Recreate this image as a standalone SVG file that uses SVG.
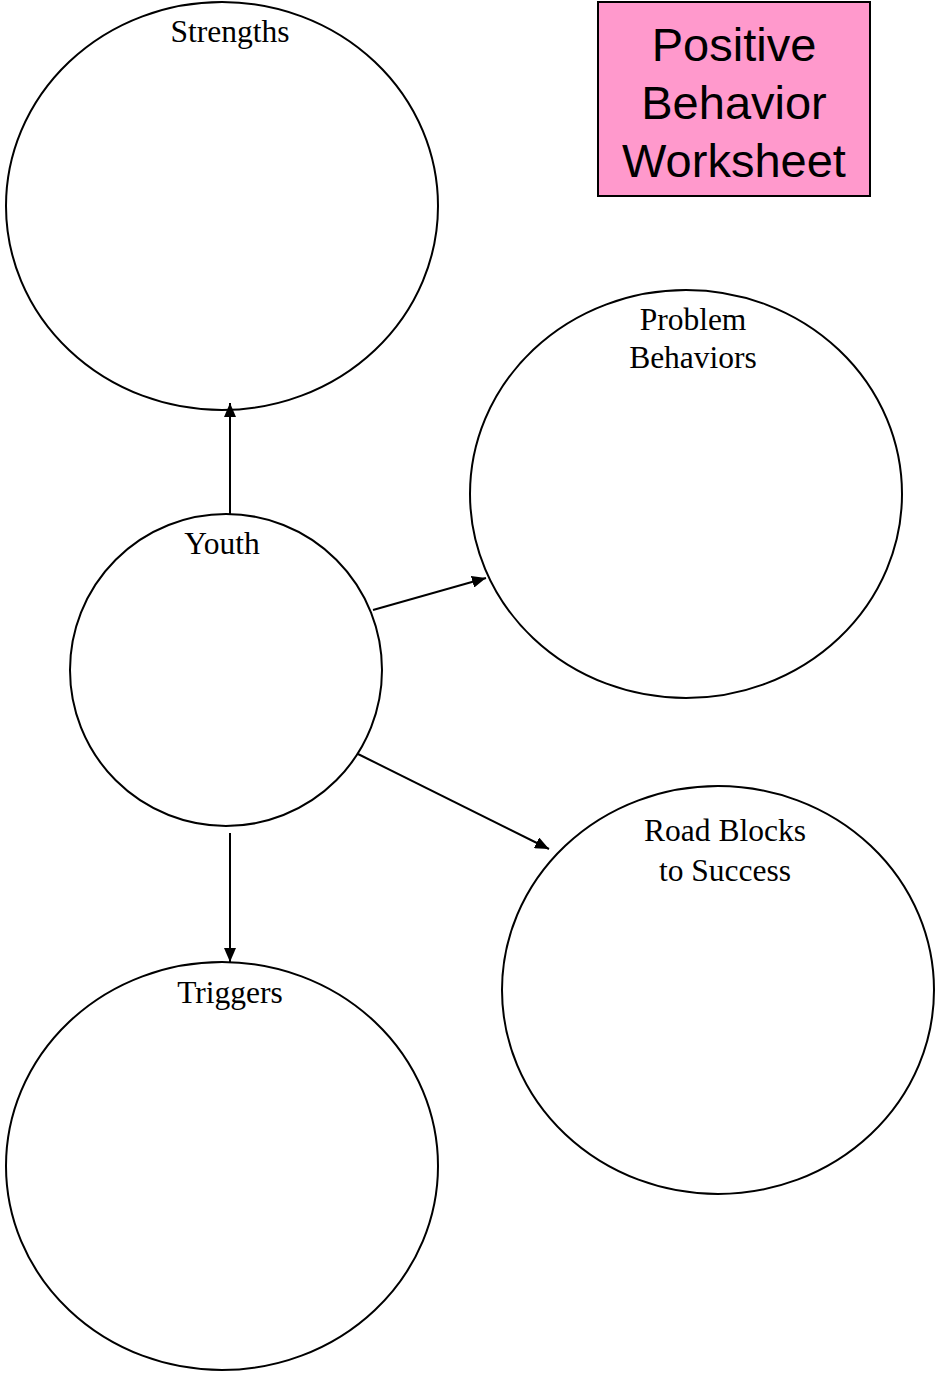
<svg xmlns="http://www.w3.org/2000/svg" width="936" height="1376" viewBox="0 0 936 1376">
<style>
.c{fill:#fff;stroke:#000;stroke-width:2}
.t{font-family:"Liberation Serif","Times New Roman",serif;font-size:31.5px;text-anchor:middle;fill:#000}
.h{font-family:"Liberation Sans",Arial,sans-serif;font-size:47px;text-anchor:middle;fill:#000}
.a{stroke:#000;stroke-width:2;fill:none;marker-end:url(#ah)}
</style>
<defs>
<marker id="ah" markerWidth="14" markerHeight="12" refX="14" refY="6" orient="auto" markerUnits="userSpaceOnUse">
<path d="M0,0 L14,6 L0,12 Z" fill="#000"/>
</marker>
</defs>
<rect width="936" height="1376" fill="#fff"/>
<g id="title">
<rect x="598" y="2" width="272" height="194" fill="#ff99cc" stroke="#000" stroke-width="2"/>
<text class="h" x="734" y="61">Positive</text>
<text class="h" x="734" y="119">Behavior</text>
<text class="h" x="734" y="177">Worksheet</text>
</g>
<g id="strengths">
<ellipse class="c" cx="222" cy="206" rx="216" ry="204"/>
<text class="t" x="230" y="42">Strengths</text>
</g>
<g id="problem">
<ellipse class="c" cx="686" cy="494" rx="216" ry="204"/>
<text class="t" x="693" y="330">Problem</text>
<text class="t" x="693" y="368">Behaviors</text>
</g>
<g id="youth">
<ellipse class="c" cx="226" cy="670" rx="156" ry="156"/>
<text class="t" x="222" y="554">Youth</text>
</g>
<g id="roadblocks">
<ellipse class="c" cx="718" cy="990" rx="216" ry="204"/>
<text class="t" x="725" y="841">Road Blocks</text>
<text class="t" x="725" y="881">to Success</text>
</g>
<g id="triggers">
<ellipse class="c" cx="222" cy="1166" rx="216" ry="204"/>
<text class="t" x="230" y="1003">Triggers</text>
</g>
<g id="connectors">
<line class="a" x1="230" y1="514" x2="230" y2="403"/>
<line class="a" x1="373" y1="610" x2="486" y2="578"/>
<line class="a" x1="358" y1="754" x2="549" y2="849"/>
<line class="a" x1="230" y1="833" x2="230" y2="962"/>
</g>
</svg>
